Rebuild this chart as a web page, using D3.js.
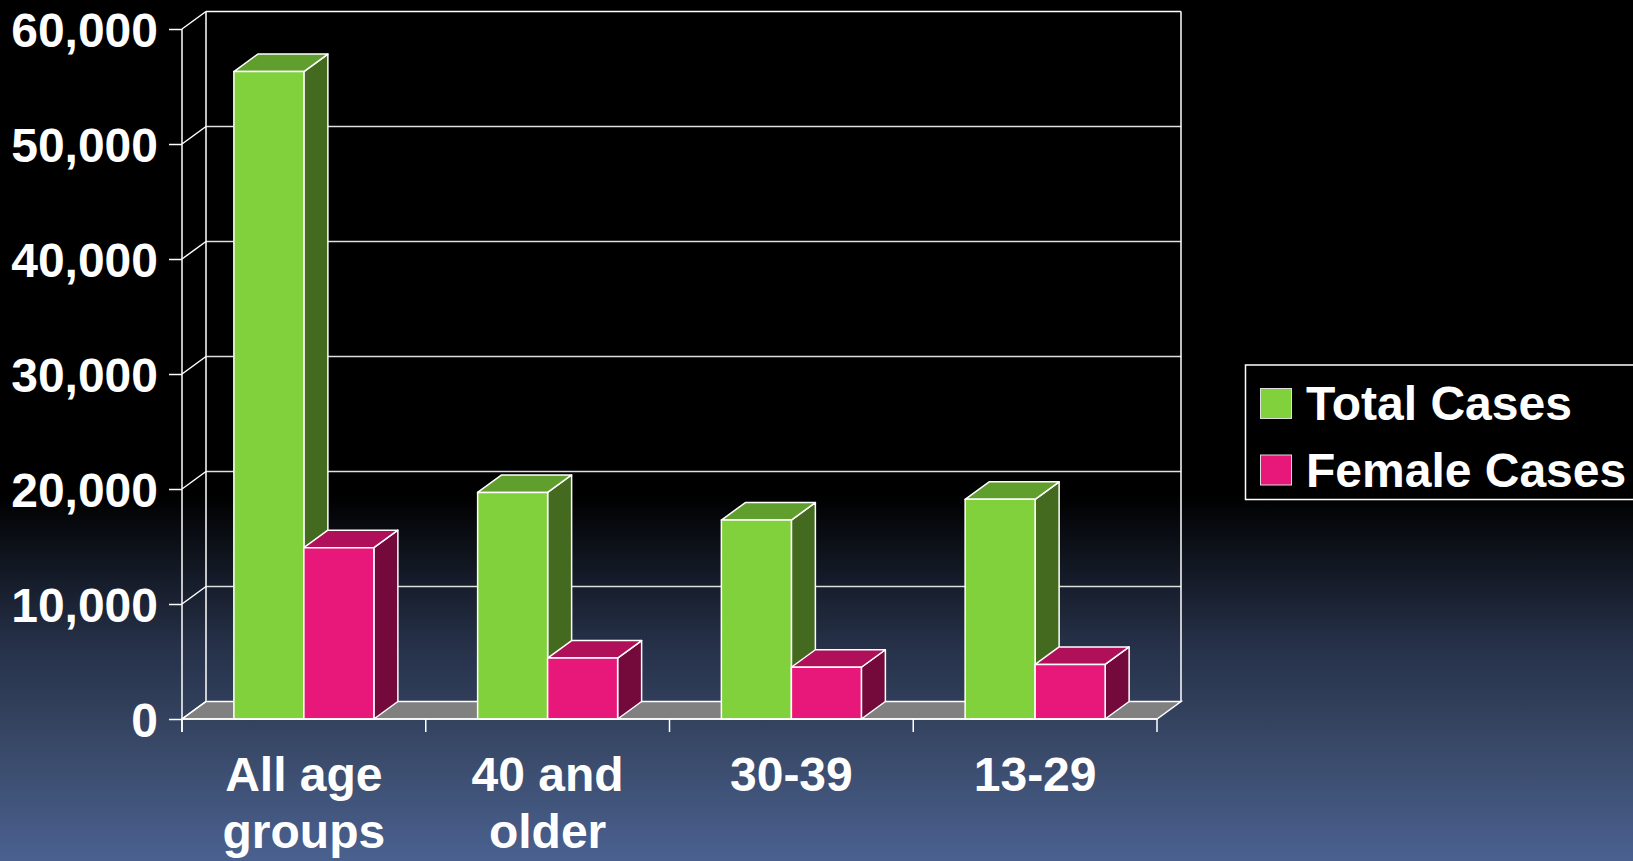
<!DOCTYPE html>
<html>
<head>
<meta charset="utf-8">
<script src="https://cdn.jsdelivr.net/npm/d3@7"></script>
<style>
  html, body { margin: 0; padding: 0; background: #000; overflow: hidden; }
  svg { display: block; }
  text { font-family: "Liberation Sans", Arial, sans-serif; font-weight: bold; fill: #fff; }
</style>
</head>
<body>
<svg id="chart" width="1633" height="861"></svg>
<script>
// ---- data ----
const categories = ["All age groups", "40 and older", "30-39", "13-29"];
const categoryLines = [["All age", "groups"], ["40 and", "older"], ["30-39"], ["13-29"]];
const seriesNames = ["Total Cases", "Female Cases"];
const totalCases = [56300, 19700, 17300, 19100];
const femaleCases = [14900, 5300, 4500, 4750];
const yTicks = [0, 10000, 20000, 30000, 40000, 50000, 60000];

// ---- style / layout ----
const W = 1633, H = 861;
const left = 182, right = 1157, y0px = 719, ytop = 29;
const DX = 24, DY = -17.5;
const colors = {
  "Total Cases":  { front: "#80d13c", top: "#609e2e", side: "#436a1f" },
  "Female Cases": { front: "#e8177a", top: "#b0105a", side: "#730a3b" }
};

const svg = d3.select("#chart");
const defs = svg.append("defs");
const grad = defs.append("linearGradient").attr("id", "bg").attr("x1", 0).attr("y1", 0).attr("x2", 0).attr("y2", 1);
[[0, "#000000"], [0.575, "#000000"], [0.65, "#10151f"], [0.75, "#263149"], [0.87, "#394968"], [1, "#4a6190"]]
  .forEach(([o, c]) => grad.append("stop").attr("offset", o).attr("stop-color", c));
svg.append("rect").attr("width", W).attr("height", H).attr("fill", "url(#bg)");

const x0 = d3.scaleBand().domain(categories).range([left, right]).padding(0);
const bw = x0.bandwidth();
const groupW = 140;
const x1 = d3.scaleBand().domain(seriesNames).range([(bw - groupW) / 2, (bw + groupW) / 2]).padding(0);
const y = d3.scaleLinear().domain([0, 60000]).range([y0px, ytop]);

const data = categories.map((c, i) => ({ cat: c, values: [
  { s: "Total Cases", v: totalCases[i] },
  { s: "Female Cases", v: femaleCases[i] }
]}));

// floor
svg.append("polygon")
  .attr("points", [[left, y0px], [right, y0px], [right + DX, y0px + DY], [left + DX, y0px + DY]].map(p => p.join(",")).join(" "))
  .attr("fill", "#808080").attr("stroke", "#ffffff").attr("stroke-width", 1.5);

// back wall gridlines + side diagonals
const walls = svg.append("g").attr("stroke", "#e8e8e8").attr("stroke-width", 1.5).attr("fill", "none");
yTicks.forEach(t => {
  if (t > 0) {
    walls.append("line").attr("x1", left + DX).attr("x2", right + DX)
      .attr("y1", y(t) + DY).attr("y2", y(t) + DY)
      .attr("stroke", t === 60000 ? "#ffffff" : "#e0e0e0");
  }
  walls.append("line").attr("x1", left).attr("y1", y(t)).attr("x2", left + DX).attr("y2", y(t) + DY).attr("stroke", "#ffffff");
});
walls.append("line").attr("x1", left + DX).attr("x2", left + DX).attr("y1", y(60000) + DY).attr("y2", y0px + DY).attr("stroke", "#ffffff");
walls.append("line").attr("x1", right + DX).attr("x2", right + DX).attr("y1", y(60000) + DY).attr("y2", y0px + DY).attr("stroke", "#ffffff");

// y axis
const yAxis = svg.append("g").attr("transform", `translate(${left},0)`)
  .call(d3.axisLeft(y).tickValues(yTicks).tickFormat(d3.format(",")).tickSize(13).tickPadding(11));
yAxis.select(".domain").remove();
yAxis.selectAll(".tick line").attr("stroke", "#ffffff").attr("stroke-width", 1.5);
yAxis.selectAll(".tick text").attr("fill", "#ffffff").style("font-size", "48px")
  .style("font-family", "'Liberation Sans', Arial, sans-serif").style("font-weight", "bold").attr("dy", "0.36em");
svg.append("line").attr("x1", left).attr("x2", left).attr("y1", ytop).attr("y2", y0px + 13)
  .attr("stroke", "#ffffff").attr("stroke-width", 1.5);

// bars
const bars = svg.append("g");
data.forEach(d => {
  d.values.forEach(b => {
    const xl = x0(d.cat) + x1(b.s), xr = xl + x1.bandwidth();
    const yt = y(b.v), yb = y(0);
    const c = colors[b.s];
    const g = bars.append("g").attr("stroke", "#ffffff").attr("stroke-width", 1.5).attr("stroke-linejoin", "round");
    g.append("polygon").attr("fill", c.side)
      .attr("points", [[xr, yb], [xr + DX, yb + DY], [xr + DX, yt + DY], [xr, yt]].map(p => p.join(",")).join(" "));
    g.append("polygon").attr("fill", c.top)
      .attr("points", [[xl, yt], [xr, yt], [xr + DX, yt + DY], [xl + DX, yt + DY]].map(p => p.join(",")).join(" "));
    g.append("rect").attr("fill", c.front).attr("x", xl).attr("y", yt).attr("width", xr - xl).attr("height", yb - yt);
  });
});

// x axis front line + ticks
svg.append("line").attr("x1", left).attr("x2", right).attr("y1", y0px).attr("y2", y0px)
  .attr("stroke", "#ffffff").attr("stroke-width", 1.5);
const tickXs = categories.map(c => x0(c)).concat([right]);
svg.append("g").selectAll("line").data(tickXs).join("line")
  .attr("x1", d => d).attr("x2", d => d).attr("y1", y0px).attr("y2", y0px + 13)
  .attr("stroke", "#ffffff").attr("stroke-width", 1.5);

// x labels
categories.forEach((c, i) => {
  const t = svg.append("text").attr("x", x0(c) + bw / 2).attr("y", 791)
    .attr("text-anchor", "middle").style("font-size", "48px");
  categoryLines[i].forEach((ln, j) => {
    t.append("tspan").attr("x", x0(c) + bw / 2).attr("dy", j === 0 ? 0 : 57).text(ln);
  });
});

// legend
const lg = svg.append("g");
lg.append("rect").attr("x", 1245.5).attr("y", 365).attr("width", 420).attr("height", 134.5)
  .attr("fill", "#000000").attr("stroke", "#ffffff").attr("stroke-width", 1.5);
seriesNames.forEach((s, i) => {
  const yy = 388.5 + i * 66.5;
  lg.append("rect").attr("x", 1260.5).attr("y", yy).attr("width", 31).attr("height", 30)
    .attr("fill", colors[s].front).attr("stroke", "#dddddd").attr("stroke-width", 1);
  lg.append("text").attr("x", 1306).attr("y", yy + 31.5).style("font-size", "48px").text(s);
});
</script>
</body>
</html>
